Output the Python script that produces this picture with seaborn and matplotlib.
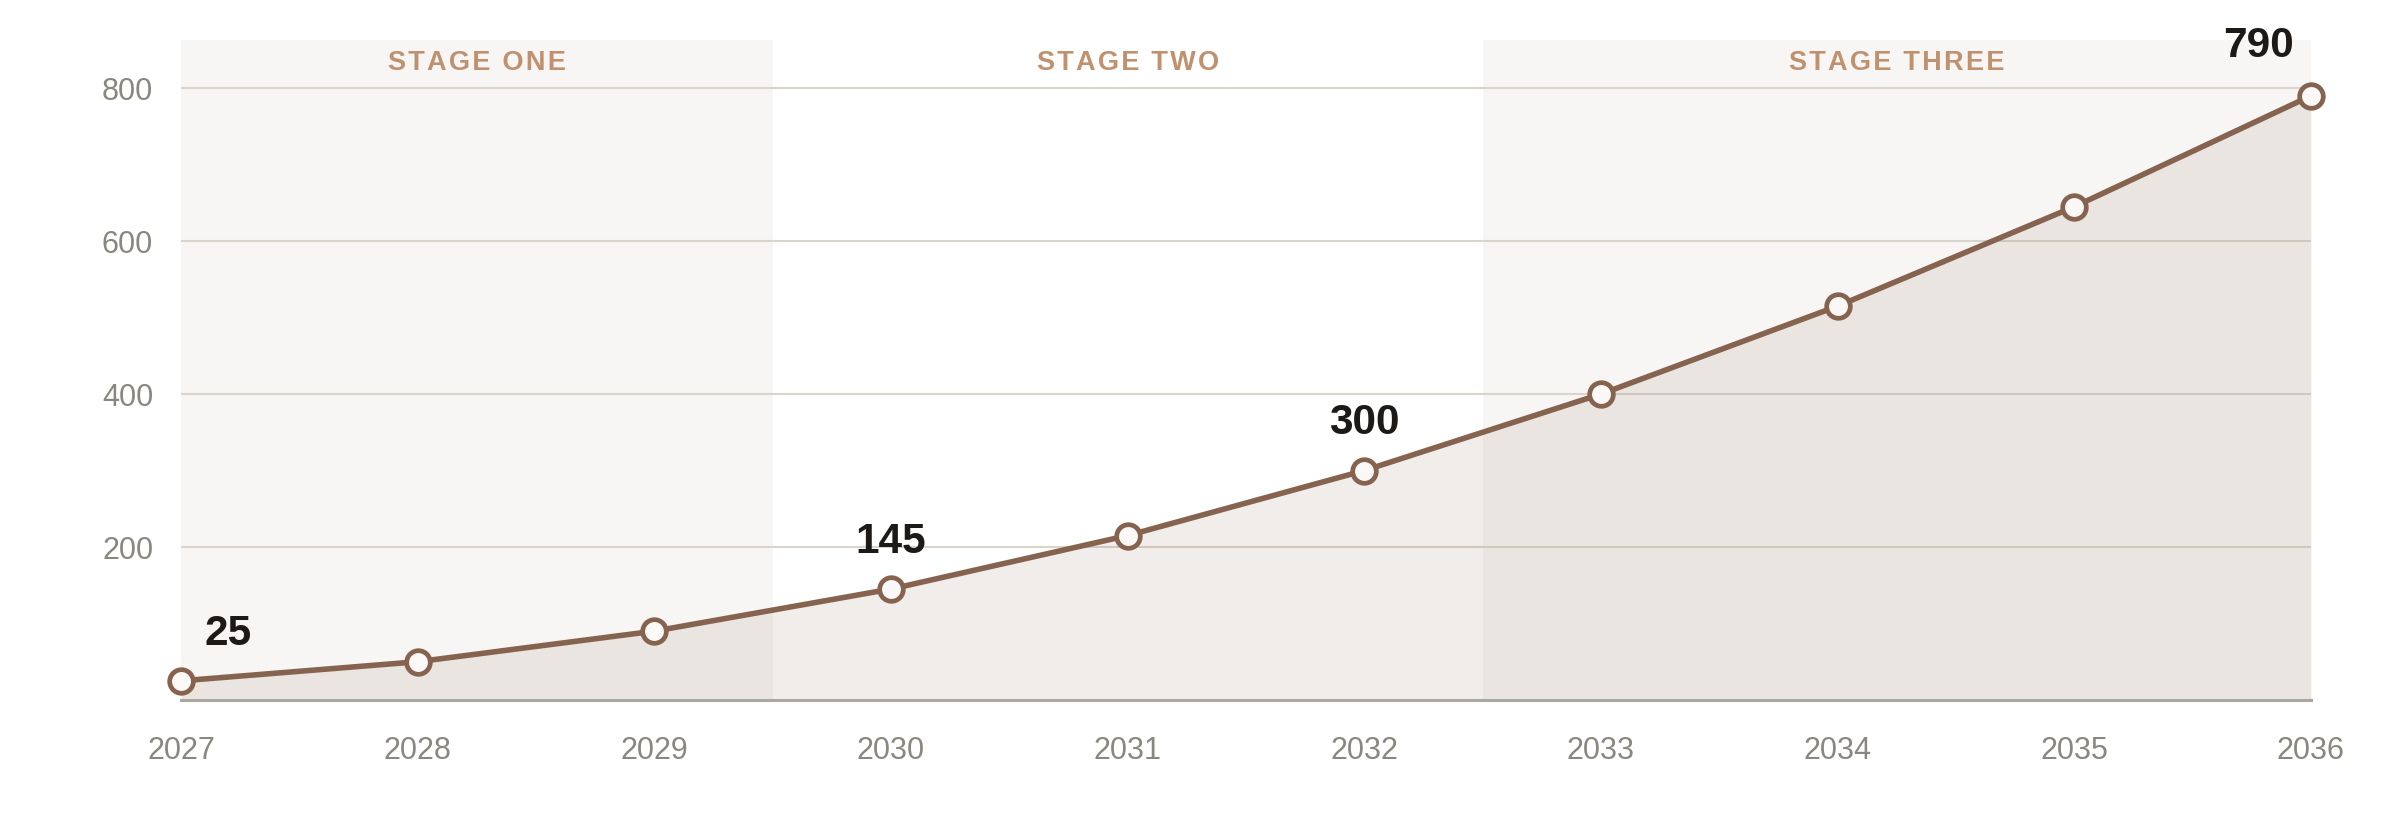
import pandas as pd
import matplotlib.pyplot as plt
import seaborn as sns

# Dados do gráfico
years = [2027, 2028, 2029, 2030, 2031, 2032, 2033, 2034, 2035, 2036]
values = [25, 50, 90, 145, 215, 300, 400, 515, 645, 790]
labelled_years = [2027, 2030, 2032, 2036]
stage_names = ["STAGE ONE", "STAGE TWO", "STAGE THREE"]
stage_bounds = [(2027, 2029.5), (2029.5, 2032.5), (2032.5, 2036)]
stage_shaded = [True, False, True]
y_ticks = [200, 400, 600, 800]

LINE = "#85634f"
BAND = "#f7f6f4"
GRID = "#d9d5cd"
TICK = "#8a8780"
STAGE = "#c0916f"


def spaced(text):
    # simula o espaçamento entre letras com espaços muito finos
    return "\u200a".join(text)


def main():
    df = pd.DataFrame({"year": years, "value": values})

    sns.set_theme(style="white")
    plt.rcParams["font.family"] = ["Liberation Sans", "DejaVu Sans"]

    fig = plt.figure(figsize=(24, 8.4), dpi=100)
    ax = fig.add_axes([0.0754, 0.1667, 0.9629 - 0.0754, 0.9524 - 0.1667])

    # Faixas das etapas
    for (x0, x1), shaded in zip(stage_bounds, stage_shaded):
        if shaded:
            ax.axvspan(x0, x1, color=BAND, zorder=0.1, lw=0)

    # Área sob a curva
    ax.fill_between(df["year"], df["value"], 0, color=LINE, alpha=0.108,
                    lw=0, zorder=1)

    sns.lineplot(data=df, x="year", y="value", ax=ax, color=LINE, lw=4.0,
                 marker="o", markersize=17, markerfacecolor="#fbf9f7",
                 markeredgecolor=LINE, markeredgewidth=3.4, zorder=3,
                 clip_on=False)

    ax.set_xlim(2027, 2036)
    ax.set_ylim(0, 863)
    ax.set_yticks(y_ticks)
    ax.set_xticks(years)
    ax.set_xticklabels([str(y) for y in years])
    ax.yaxis.grid(True, color=GRID, lw=1.5)
    ax.set_axisbelow(True)
    ax.tick_params(axis="y", length=0, pad=20, labelsize=22, labelcolor=TICK)
    ax.tick_params(axis="x", length=0, pad=26, labelsize=22, labelcolor=TICK)
    ax.set_xlabel("")
    ax.set_ylabel("")
    for side in ["top", "right", "left"]:
        ax.spines[side].set_visible(False)
    ax.spines["bottom"].set_color("#aca8a1")
    ax.spines["bottom"].set_linewidth(2.2)
    ax.spines["bottom"].set_zorder(2)

    # Nomes das etapas
    for name, (x0, x1) in zip(stage_names, stage_bounds):
        ax.text((x0 + x1) / 2, 833, spaced(name), ha="center", va="center",
                fontsize=19.5, fontweight="bold", color=STAGE)

    # Rótulos dos valores
    for year in labelled_years:
        v = values[years.index(year)]
        if year == years[0]:
            off, ha = (17, 26), "left"
        elif year == years[-1]:
            off, ha = (-12, 28), "right"
        else:
            off, ha = (0, 26), "center"
        ax.annotate(str(v), (year, v), xytext=off, textcoords="offset points",
                    ha=ha, va="baseline", fontsize=30.5, fontweight="bold",
                    color="#1c1917", annotation_clip=False, zorder=4)

    fig.savefig("out.png", dpi=100, facecolor="white")


if __name__ == "__main__":
    main()
